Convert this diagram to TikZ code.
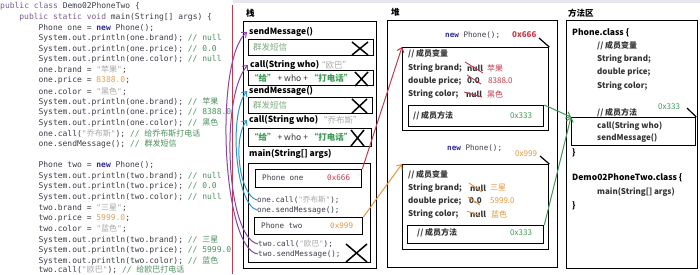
\documentclass[tikz,border=0pt]{standalone}
\usepackage{fontspec}
\setmonofont{DejaVu Sans Mono}
\newfontfamily\cjk{Noto Sans CJK SC}
\usetikzlibrary{arrows.meta}
\definecolor{kwc}{HTML}{7E5A96}
\definecolor{newc}{HTML}{2E2A9C}
\definecolor{strc}{HTML}{A6A6A6}
\definecolor{numc}{HTML}{E3A25E}
\definecolor{cmc}{HTML}{4C8F5E}
\definecolor{codec}{HTML}{3C3C48}
\definecolor{redc}{HTML}{C23A4C}
\definecolor{orc}{HTML}{E3953F}
\definecolor{grc}{HTML}{3F9A55}
\definecolor{lgrc}{HTML}{7DAA7D}
\definecolor{purc}{HTML}{8B44A8}
\definecolor{bluc}{HTML}{2C95C9}
\definecolor{grayc}{HTML}{ABABAB}
\definecolor{bandc}{HTML}{E7E5EE}
\definecolor{darkc}{HTML}{333333}
\newcommand\ckw[1]{\textcolor{kwc}{#1}}
\newcommand\cnw[1]{\textcolor{newc}{\bfseries #1}}
\newcommand\cst[1]{\textcolor{strc}{#1}}
\newcommand\cnm[1]{\textcolor{numc}{#1}}
\newcommand\ccm[1]{\textcolor{cmc}{#1}}
\newcommand\zh[1]{{\cjk #1}}
\tikzset{
  code/.style={anchor=west, inner sep=0pt, text=codec, font=\ttfamily\fontsize{8}{9}\selectfont},
  fr/.style={draw=black, line width=1.3pt, anchor=north west, inner sep=0pt},
  lbl/.style={anchor=west, inner sep=0pt, text=black, font=\cjk\bfseries\fontsize{8.5}{10}\selectfont},
  cn/.style={anchor=west, inner sep=0pt, font=\cjk\fontsize{8.5}{10}\selectfont},
  hb/.style={anchor=west, inner sep=0pt, text=darkc, font=\cjk\bfseries\fontsize{8}{10}\selectfont},
  hv/.style={anchor=west, inner sep=0pt, font=\cjk\fontsize{8}{10}\selectfont},
  mono/.style={anchor=west, inner sep=0pt, text=codec, font=\ttfamily\fontsize{7.6}{9}\selectfont},
  xm/.style={line width=1.5pt, black},
  strike/.style={line width=0.9pt},
  tick/.style={line width=1.2pt, black},
  con/.style={line width=1pt, -{Straight Barb[length=4pt,width=7pt]}},
}
\begin{document}
\begin{tikzpicture}[x=1pt,y=-1pt]
\useasboundingbox (0,0) rectangle (700,274);
\fill[bandc] (233,0) rectangle (700,3);
% ---------------- code panel ----------------
\node[code] (c0) at (0,6.5) {\ckw{public class} Demo02PhoneTwo \{};
\node[code] (c1) at (19.2,17.1) {\ckw{public static void} main(String[] args) \{};
\node[code] (c2) at (38.4,27.7) {Phone one = \cnw{new} Phone();};
\node[code] (c3) at (38.4,38.3) {System.out.println(one.brand); \ccm{// null}};
\node[code] (c4) at (38.4,48.9) {System.out.println(one.price); \ccm{// 0.0}};
\node[code] (c5) at (38.4,59.5) {System.out.println(one.color); \ccm{// null}};
\node[code] (c6) at (38.4,70.1) {one.brand = \cst{"\zh{苹果}"};};
\node[code] (c7) at (38.4,80.7) {one.price = \cnm{8388.0};};
\node[code] (c8) at (38.4,91.3) {one.color = \cst{"\zh{黑色}"};};
\node[code] (c9) at (38.4,101.9) {System.out.println(one.brand); \ccm{// \zh{苹果}}};
\node[code] (c10) at (38.4,112.5) {System.out.println(one.price); \ccm{// 8388.0}};
\node[code] (c11) at (38.4,123.1) {System.out.println(one.color); \ccm{// \zh{黑色}}};
\node[code] (c12) at (38.4,133.7) {one.call(\cst{"\zh{乔布斯}"}); \ccm{// \zh{给乔布斯打电话}}};
\node[code] (c13) at (38.4,144.3) {one.sendMessage(); \ccm{// \zh{群发短信}}};
\node[code] (c15) at (38.4,165.5) {Phone two = \cnw{new} Phone();};
\node[code] (c16) at (38.4,176.1) {System.out.println(two.brand); \ccm{// null}};
\node[code] (c17) at (38.4,186.7) {System.out.println(two.price); \ccm{// 0.0}};
\node[code] (c18) at (38.4,197.3) {System.out.println(two.color); \ccm{// null}};
\node[code] (c19) at (38.4,207.9) {two.brand = \cst{"\zh{三星}"};};
\node[code] (c20) at (38.4,218.5) {two.price = \cnm{5999.0};};
\node[code] (c21) at (38.4,229.1) {two.color = \cst{"\zh{蓝色}"};};
\node[code] (c22) at (38.4,239.7) {System.out.println(two.brand); \ccm{// \zh{三星}}};
\node[code] (c23) at (38.4,250.3) {System.out.println(two.price); \ccm{// 5999.0}};
\node[code] (c24) at (38.4,260.9) {System.out.println(two.color); \ccm{// \zh{蓝色}}};
\node[code] (c25) at (38.4,269.5) {two.call(\cst{"\zh{欧巴}"}); \ccm{// \zh{给欧巴打电话}}};
\draw[redc, line width=1.1pt] (232.5,5) -- (232.5,274);
% ---------------- stack ----------------
\node[lbl] (stk) at (246,13) {栈};
\node[fr, minimum width=133pt, minimum height=247pt] (stack) at (243,21) {};
\node[lbl] (sm1) at (249,32) {sendMessage()};
\node[fr, minimum width=125pt, minimum height=16pt] (f1) at (248,39) {};
\node[cn, text=lgrc] (f1t) at (253,47) {群发短信};
\draw[xm] (352,42) -- (368,55) (352,55) -- (368,42);
\node[lbl] (cl1) at (250,65) {call(String who)};
\node[cn, text=grayc] (cl1a) at (317,65) {“欧巴”};
\node[fr, minimum width=125pt, minimum height=15pt] (f2) at (248,70) {};
\node[cn, text=darkc] (f2t) at (250,78) {\textcolor{grc}{\bfseries “给”} + who + \textcolor{grc}{\bfseries “打电话”}};
\draw[xm] (355,72) -- (368,86) (355,86) -- (368,72);
\node[lbl] (sm2) at (249,91) {sendMessage()};
\node[fr, minimum width=124pt, minimum height=16pt] (f3) at (248,97) {};
\node[cn, text=lgrc] (f3t) at (253,105) {群发短信};
\draw[xm] (352,99) -- (367,113) (352,113) -- (367,99);
\node[lbl] (cl2) at (249,120) {call(String who)};
\node[cn, text=grayc] (cl2a) at (319,120) {“乔布斯”};
\node[fr, minimum width=123pt, minimum height=18pt] (f4) at (248,128) {};
\node[cn, text=darkc] (f4t) at (250,137) {\textcolor{grc}{\bfseries “给”} + who + \textcolor{grc}{\bfseries “打电话”}};
\draw[xm] (351,130) -- (364,146) (351,146) -- (364,130);
\node[lbl] (mn) at (249,154) {main(String[] args)};
\node[fr, minimum width=122pt, minimum height=99pt] (mb) at (248,163) {};
\node[fr, minimum width=106pt, minimum height=18pt] (p1) at (255,169) {};
\node[mono] (p1t) at (262,178) {Phone one};
\node[mono, text=redc] (p1a) at (327,178) {0x666};
\node[mono] (oc) at (257,200) {one.call(\cst{"\zh{乔布斯}"});};
\node[mono] (osm) at (257,210) {one.sendMessage();};
\node[fr, minimum width=108pt, minimum height=17pt] (p2) at (254,217) {};
\node[mono] (p2t) at (261,226) {Phone two};
\node[mono, text=orc] (p2a) at (330,226) {0x999};
\node[mono] (tc) at (258,244) {two.call(\cst{"\zh{欧巴}"});};
\node[mono] (tsm) at (258,254) {two.sendMessage();};
\draw[xm] (346,244) -- (367,262) (346,262) -- (367,244);
% ---------------- heap ----------------
\node[lbl] (hpl) at (391,12) {堆};
\node[fr, minimum width=170pt, minimum height=247pt] (heap) at (387,20) {};
\node[mono] (n1) at (445,35) {\cnw{new} Phone();};
\node[hb, text=redc] (a1) at (512,35) {0x666};
\coordinate (a1t) at (539,38);
\node[fr, minimum width=146pt, minimum height=83pt] (obj1) at (402,47) {};
\draw[tick] (a1t) -- (obj1.north east);
\node[hb] (o1v) at (408,54) {// 成员变量};
\node[hb] (o1b) at (408,68) {String brand;};
\node[hb] (o1bn) at (467,68) {null};
\node[hv, text=redc] (o1bv) at (487,68) {苹果};
\node[hb] (o1p) at (408,81) {double price;};
\node[hb] (o1pn) at (467,81) {0.0};
\node[hv, text=redc] (o1pv) at (488,81) {8388.0};
\node[hb] (o1c) at (408,94) {String color;};
\node[hb] (o1cn) at (466,94) {null};
\node[hv, text=redc] (o1cv) at (487,94) {黑色};
\draw[strike, redc] (465,62) -- (483,73) (467,75) -- (481,84) (464,92) -- (482,97);
\node[fr, minimum width=135pt, minimum height=21pt] (m1) at (408,105) {};
\node[hb] (m1t) at (413,116) {// 成员方法};
\node[hv, text=grc] (m1a) at (510,116) {0x333};
\node[mono] (n2) at (447,148) {\cnw{new} Phone();};
\node[hv, text=orc] (a2) at (515,154) {0x999};
\coordinate (a2t) at (540,156);
\node[fr, minimum width=146pt, minimum height=85pt] (obj2) at (402,164) {};
\draw[tick] (a2t) -- (obj2.north east);
\node[hb] (o2v) at (408,175) {// 成员变量};
\node[hb] (o2b) at (408,188) {String brand;};
\node[hb] (o2bn) at (470,188) {null};
\node[hv, text=orc] (o2bv) at (490,188) {三星};
\node[hb] (o2p) at (408,201) {double price;};
\node[hb] (o2pn) at (469,201) {0.0};
\node[hv, text=orc] (o2pv) at (490,201) {5999.0};
\node[hb] (o2c) at (408,214) {String color;};
\node[hb] (o2cn) at (470,214) {null};
\node[hv, text=orc] (o2cv) at (491,214) {蓝色};
\draw[strike, orc] (469,183) -- (482,192) (468,197) -- (480,205) (467,211) -- (480,216);
\node[fr, minimum width=136pt, minimum height=18pt] (m2) at (407,225) {};
\node[hb] (m2t) at (417,233) {// 成员方法};
\node[hv, text=grc] (m2a) at (510,233) {0x333};
% ---------------- method area ----------------
\node[lbl] (mal) at (568,13) {方法区};
\node[fr, minimum width=131pt, minimum height=248pt] (marea) at (566,20) {};
\node[lbl] (pc) at (572,33) {Phone.class \{};
\node[hb] (pcv) at (597,46) {// 成员变量};
\node[hb] (pcb) at (597,59) {String brand;};
\node[hb] (pcp) at (597,72) {double price;};
\node[hb] (pcc) at (597,86) {String color;};
\node[hb] (pcm) at (597,113) {// 成员方法};
\node[hv, text=grc] (pca) at (658,107) {0x333};
\coordinate (pcat) at (687,108);
\node[fr, minimum width=124pt, minimum height=28pt] (mbox) at (571,117) {};
\draw[tick] (pcat) -- (mbox.north east);
\node[hb] (pcall) at (597,126) {call(String who)};
\node[hb] (psm) at (597,138) {sendMessage()};
\node[lbl] (pe) at (572,153) {\}};
\node[lbl] (dc) at (572,178) {Demo02PhoneTwo.class \{};
\node[hb] (dm) at (597,192) {main(String[] args)};
\node[lbl] (de) at (572,206) {\}};
% ---------------- connectors ----------------
\draw[con, redc] (p1.north east) -- (obj1.north west);
\draw[con, orc] (p2.north east) -- (obj2.north west);
\draw[con, grc] (m1.north east) -- (mbox.north west);
\draw[con, grc] (m2.north east) -- (mbox.north west);
\draw[con, purc] (tsm.west) .. controls (222,250) and (214,60) .. ([xshift=-2pt]sm1.west);
\draw[con, purc] (tc.west) .. controls (226,238) and (220,95) .. ([xshift=-2pt]cl1.west);
\draw[con, bluc] (osm.west) .. controls (236,205) and (228,115) .. ([xshift=-2pt]sm2.west);
\draw[con, bluc] (oc.west) .. controls (240,196) and (232,140) .. ([xshift=-2pt]cl2.west);
\end{tikzpicture}
\end{document}
